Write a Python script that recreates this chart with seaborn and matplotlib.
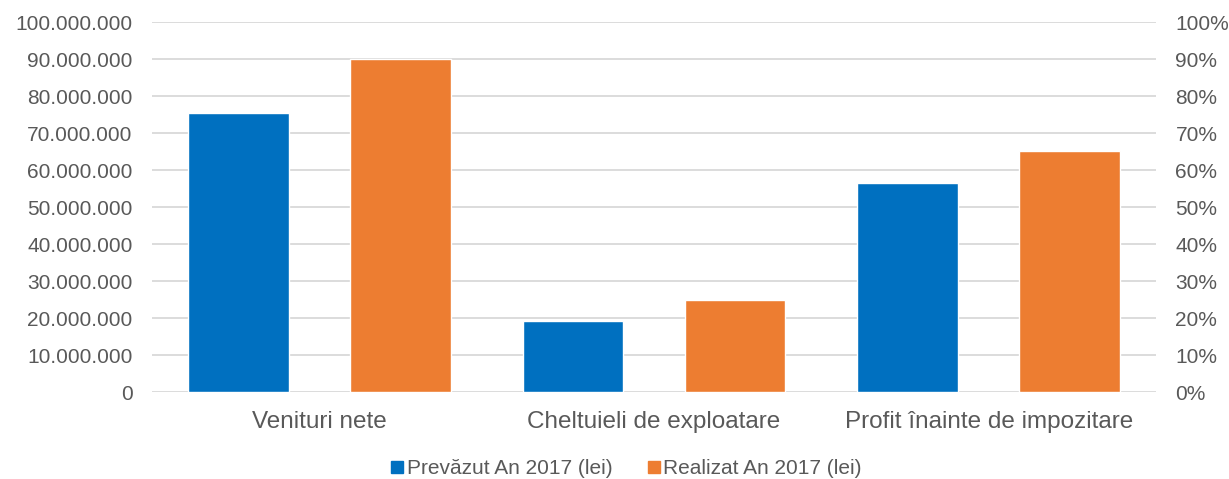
import pandas as pd
import matplotlib
matplotlib.use("Agg")
import matplotlib.pyplot as plt
from matplotlib.ticker import FuncFormatter, MultipleLocator
from matplotlib.lines import Line2D
import seaborn as sns

categories = ["Venituri nete", "Cheltuieli de exploatare", "Profit înainte de impozitare"]
prevazut = [75_500_000, 19_100_000, 56_600_000]
realizat = [90_000_000, 25_000_000, 65_100_000]
series_names = ["Prevăzut An 2017 (lei)", "Realizat An 2017 (lei)"]
colors = ["#0070C0", "#ED7D31"]

df = pd.DataFrame({
    "categorie": categories * 2,
    "valoare": prevazut + realizat,
    "serie": [series_names[0]] * 3 + [series_names[1]] * 3,
})

sns.set_style("white")
plt.rcParams["font.family"] = ["Liberation Sans", "DejaVu Sans"]
text_color = "#595959"

fig = plt.figure(figsize=(12.29, 4.79), dpi=100)
ax = fig.add_axes([0.1237, 0.1816, 0.9406 - 0.1237, 0.954 - 0.1816])

sns.barplot(data=df, x="categorie", y="valoare", hue="serie",
            palette=colors, width=0.968, gap=0.38, saturation=1,
            legend=False, ax=ax)

ax.set_xlim(-0.5, 2.5)
ax.set_ylim(0, 100_000_000)
ax.yaxis.set_major_locator(MultipleLocator(10_000_000))
ax.yaxis.set_major_formatter(FuncFormatter(lambda v, p: f"{v:,.0f}".replace(",", ".")))
ax.grid(axis="y", color="#D9D9D9", linewidth=1.3)
ax.set_axisbelow(True)
ax.set_xlabel("")
ax.set_ylabel("")
for s in ax.spines.values():
    s.set_visible(False)
ax.tick_params(axis="y", length=0, pad=14, labelsize=15, labelcolor=text_color)
ax.tick_params(axis="x", length=0, pad=13.5, labelsize=17.5, labelcolor=text_color)

ax2 = ax.twinx()
ax2.set_ylim(0, 1)
ax2.yaxis.set_major_locator(MultipleLocator(0.1))
ax2.yaxis.set_major_formatter(FuncFormatter(lambda v, p: f"{v * 100:.0f}%"))
for s in ax2.spines.values():
    s.set_visible(False)
ax2.tick_params(axis="y", length=0, pad=14, labelsize=15, labelcolor=text_color)

handles = [Line2D([], [], marker="s", linestyle="", markersize=8,
                  markerfacecolor=c, markeredgecolor=c) for c in colors]
leg = fig.legend(handles, series_names, loc="center", ncol=2,
                 bbox_to_anchor=(0.509, 0.021), frameon=False,
                 fontsize=15, handletextpad=0.05, columnspacing=1.6,
                 handlelength=0.8)
for t in leg.get_texts():
    t.set_color(text_color)

fig.savefig("out.png", dpi=100)
